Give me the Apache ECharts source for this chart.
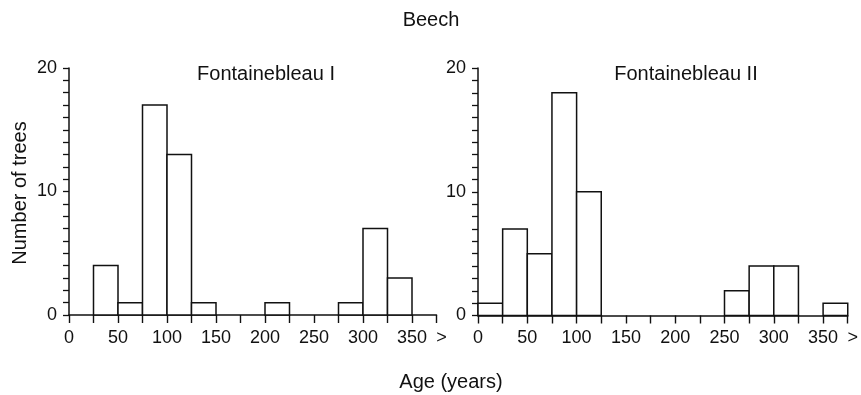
<!DOCTYPE html>
<html>
<head>
<meta charset="utf-8">
<script src="https://cdn.jsdelivr.net/npm/echarts@6/dist/echarts.min.js"></script>
<style>
  html, body { margin: 0; padding: 0; background: #fff; }
  #chart { width: 861px; height: 395px; }
</style>
</head>
<body>
<div id="chart"></div>
<script>
// Age classes (lower edge of each 25-year bin)
const binStarts = [0, 25, 50, 75, 100, 125, 150, 175, 200, 225, 250, 275, 300, 325, 350];
const binWidth = 25;

// Number of beech trees per age class
const fontainebleau1 = [0, 4, 1, 17, 13, 1, 0, 0, 1, 0, 0, 1, 7, 3, 0];
const fontainebleau2 = [1, 7, 5, 18, 10, 0, 0, 0, 0, 0, 2, 4, 4, 0, 1];

// Tick labels
const xTickLabels = ['0', '50', '100', '150', '200', '250', '300', '350', '>'];
const yTickLabels = ['0', '10', '20'];

const panelTitles = ['Fontainebleau I', 'Fontainebleau II'];

const FONT = '"Liberation Sans", Arial, sans-serif';
const INK = '#111';

function histData(counts) {
  return binStarts.map((s, i) => [s, s + binWidth, counts[i]]);
}

function renderBin(params, api) {
  const count = api.value(2);
  if (!count) return null;
  const p0 = api.coord([api.value(0), count]);
  const p1 = api.coord([api.value(1), 0]);
  return {
    type: 'rect',
    shape: { x: p0[0], y: p0[1], width: p1[0] - p0[0], height: p1[1] - p0[1] },
    style: { fill: '#fff', stroke: INK, lineWidth: 1.5 },
    z2: 1
  };
}

function xAxisFor(idx) {
  return {
    type: 'value', gridIndex: idx, min: 0, max: 375, interval: 25,
    axisLine: { lineStyle: { color: INK, width: 1.5 } },
    axisTick: { length: 8, lineStyle: { color: INK, width: 1.4 } },
    splitLine: { show: false },
    axisLabel: {
      color: INK, fontFamily: FONT, fontSize: 18, margin: 14,
      formatter: function (v) {
        if (v === 375) return '{gt|' + xTickLabels[xTickLabels.length - 1] + '}';
        return v % 50 === 0 ? xTickLabels[v / 50] : '';
      },
      rich: { gt: { fontFamily: FONT, fontSize: 18, color: INK, padding: [0, 0, 0, 10] } }
    }
  };
}

// One tick per tree, labels every ten
function yAxisFor(idx) {
  return {
    type: 'value', gridIndex: idx, min: 0, max: 20, interval: 1,
    axisLine: { show: true, lineStyle: { color: INK, width: 1.5 } },
    axisTick: { show: true, interval: 0, length: 6, lineStyle: { color: INK, width: 1.3 } },
    splitLine: { show: false },
    axisLabel: {
      color: INK, fontFamily: FONT, fontSize: 18, margin: 12,
      formatter: v => (v % 10 === 0 ? yTickLabels[v / 10] : '')
    }
  };
}

const chart = echarts.init(document.getElementById('chart'));

chart.setOption({
  backgroundColor: '#fff',
  animation: false,
  grid: [
    { left: 69, top: 68, width: 367.5, height: 247 },
    { left: 478, top: 68, width: 370, height: 247.5 }
  ],
  xAxis: [xAxisFor(0), xAxisFor(1)],
  yAxis: [yAxisFor(0), yAxisFor(1)],
  series: [
    { type: 'custom', xAxisIndex: 0, yAxisIndex: 0, renderItem: renderBin, data: histData(fontainebleau1), encode: { x: [0, 1], y: 2 } },
    { type: 'custom', xAxisIndex: 1, yAxisIndex: 1, renderItem: renderBin, data: histData(fontainebleau2), encode: { x: [0, 1], y: 2 } }
  ],
  graphic: [
    { type: 'text', x: 431, y: 20, style: { text: 'Beech', font: '20px ' + FONT, fill: INK, align: 'center', verticalAlign: 'middle' } },
    { type: 'text', x: 266, y: 74, style: { text: panelTitles[0], font: '20px ' + FONT, fill: INK, align: 'center', verticalAlign: 'middle' } },
    { type: 'text', x: 686, y: 74, style: { text: panelTitles[1], font: '20px ' + FONT, fill: INK, align: 'center', verticalAlign: 'middle' } },
    { type: 'text', x: 451, y: 382, style: { text: 'Age (years)', font: '20px ' + FONT, fill: INK, align: 'center', verticalAlign: 'middle' } },
    { type: 'text', x: 20, y: 193, rotation: Math.PI / 2, style: { text: 'Number of trees', font: '20px ' + FONT, fill: INK, align: 'center', verticalAlign: 'middle' } }
  ]
});
</script>
</body>
</html>
